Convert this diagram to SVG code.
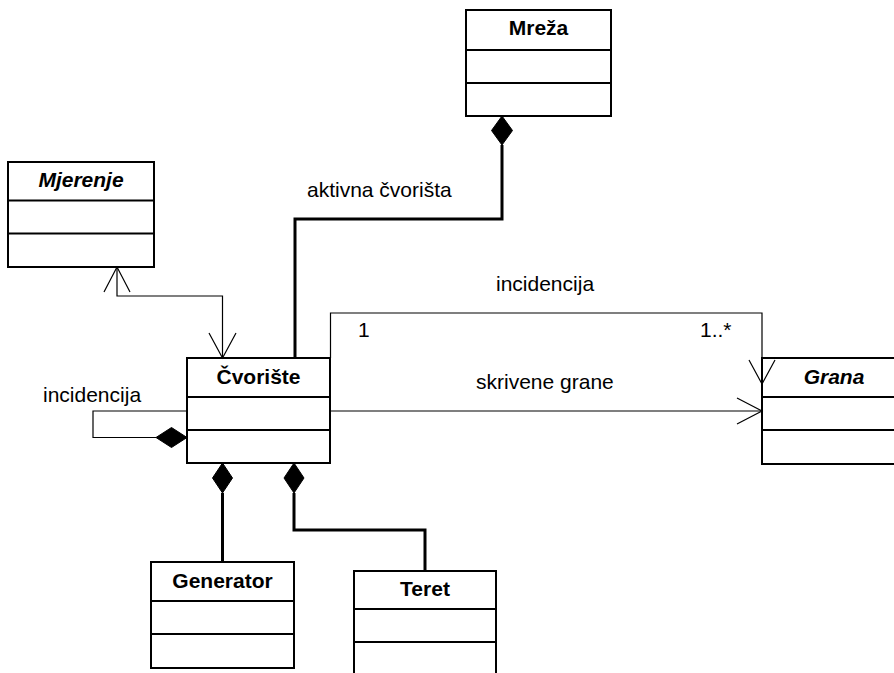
<svg xmlns="http://www.w3.org/2000/svg" width="894" height="673" viewBox="0 0 894 673">
  <style>
    .box { fill: #ffffff; stroke: #000000; stroke-width: 2; }
    .div { stroke: #000000; stroke-width: 2; }
    .name { font-family: "Liberation Sans", Arial, sans-serif; font-size: 21px; font-weight: bold; text-anchor: middle; fill: #000000; }
    .abstract { font-style: italic; }
    .label { font-family: "Liberation Sans", Arial, sans-serif; font-size: 21px; fill: #000000; }
    .thin { fill: none; stroke: #000000; stroke-width: 1.2; }
    .thick { fill: none; stroke: #000000; stroke-width: 3; }
    .diamond { fill: #000000; stroke: #000000; stroke-width: 1; }
  </style>
  <rect width="894" height="673" fill="#ffffff"/>

  <!-- classes -->
  <g id="mreza">
    <rect class="box" x="466" y="10" width="145" height="106"/>
    <line class="div" x1="466" y1="50" x2="611" y2="50"/>
    <line class="div" x1="466" y1="83" x2="611" y2="83"/>
    <text class="name" x="538.5" y="35">Mreža</text>
  </g>
  <g id="mjerenje">
    <rect class="box" x="8" y="162" width="146" height="105"/>
    <line class="div" x1="8" y1="200.5" x2="154" y2="200.5"/>
    <line class="div" x1="8" y1="233.5" x2="154" y2="233.5"/>
    <text class="name abstract" x="81" y="187">Mjerenje</text>
  </g>
  <g id="cvoriste">
    <rect class="box" x="187" y="358" width="143" height="105"/>
    <line class="div" x1="187" y1="397" x2="330" y2="397"/>
    <line class="div" x1="187" y1="430" x2="330" y2="430"/>
    <text class="name" x="258.5" y="383.5">Čvorište</text>
  </g>
  <g id="grana">
    <rect class="box" x="762" y="358" width="150" height="106"/>
    <line class="div" x1="762" y1="397" x2="912" y2="397"/>
    <line class="div" x1="762" y1="430" x2="912" y2="430"/>
    <text class="name abstract" x="834" y="383.5">Grana</text>
  </g>
  <g id="generator">
    <rect class="box" x="151" y="562" width="143" height="106"/>
    <line class="div" x1="151" y1="601" x2="294" y2="601"/>
    <line class="div" x1="151" y1="634" x2="294" y2="634"/>
    <text class="name" x="222.5" y="587.5">Generator</text>
  </g>
  <g id="teret">
    <rect class="box" x="354" y="571" width="142" height="115"/>
    <line class="div" x1="354" y1="609" x2="496" y2="609"/>
    <line class="div" x1="354" y1="642" x2="496" y2="642"/>
    <text class="name" x="425" y="596">Teret</text>
  </g>

  <!-- connectors -->
  <g id="connectors">
    <!-- Mjerenje <-> Čvorište -->
    <polyline class="thin" points="117,267 117,296 222.5,296 222.5,358"/>
    <polyline class="thin" points="104,292 117,267 130,292"/>
    <polyline class="thin" points="209,333 222.5,358 236,333"/>

    <!-- Mreža composition: aktivna čvorišta -->
    <polyline class="thick" points="295,358 295,219 502,219 502,145"/>
    <polygon class="diamond" points="502,116 512.5,130.5 502,145 491.5,130.5"/>

    <!-- incidencija Čvorište -> Grana -->
    <polyline class="thin" points="330.5,358 330.5,313 762,313 762,384"/>
    <polyline class="thin" points="749,360 762,384 775,360"/>

    <!-- skrivene grane -->
    <line class="thin" x1="330" y1="411" x2="762" y2="411"/>
    <polyline class="thin" points="737,398 762,411 737,424"/>

    <!-- self association -->
    <polyline class="thin" points="187,411 93,411 93,437.5 156,437.5"/>
    <polygon class="diamond" points="156,437.5 171.5,427.5 187,437.5 171.5,447.5"/>

    <!-- Generator composition -->
    <polygon class="diamond" points="222.5,463 232.5,478 222.5,493 212.5,478"/>
    <line class="thick" x1="222.5" y1="493" x2="222.5" y2="562"/>

    <!-- Teret composition -->
    <polygon class="diamond" points="294,463 304,478 294,493 284,478"/>
    <polyline class="thick" points="294,493 294,530 425,530 425,571"/>
  </g>

  <!-- connector labels -->
  <g id="labels">
    <text class="label" x="307" y="197">aktivna čvorišta</text>
    <text class="label" x="496" y="291">incidencija</text>
    <text class="label" x="476" y="389">skrivene grane</text>
    <text class="label" x="358" y="337">1</text>
    <text class="label" x="700" y="337">1..*</text>
    <text class="label" x="43" y="402">incidencija</text>
  </g>
</svg>
